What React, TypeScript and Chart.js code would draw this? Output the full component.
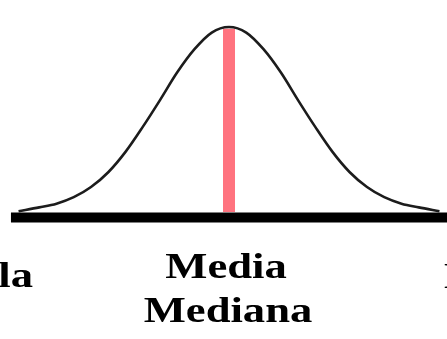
import React, { useEffect, useRef } from "react";
import { Chart, registerables } from "chart.js";

Chart.register(...registerables);

// Curve positions (in standard deviations from the centre) and relative heights
const curveX = [-3.05, -2.75, -2.5, -2.25, -2, -1.75, -1.5, -1.25, -1, -0.75, -0.5, -0.25, 0, 0.25, 0.5, 0.75, 1, 1.25, 1.5, 1.75, 2, 2.25, 2.5, 2.75, 3.05];
const curveY = [0.004, 0.025, 0.045, 0.08, 0.135, 0.215, 0.325, 0.46, 0.605, 0.755, 0.88, 0.97, 1.0, 0.97, 0.88, 0.755, 0.605, 0.46, 0.325, 0.215, 0.135, 0.08, 0.045, 0.025, 0.004];

// Centre marker (mean / median) and baseline
const centreX = [0, 0];
const centreY = [0, 0.99];
const baseX = [-3.16, 3.16];
const baseY = [-0.03, -0.03];

// Text labels
const centreLabels = ["Media", "Mediana"];
const leftLabel = "la";
const rightLabel = "Moda";

const toPoints = (xs: number[], ys: number[]) => xs.map((x, i) => ({ x, y: ys[i] }));

const labelPlugin = {
  id: "labels",
  afterDraw(chart: any) {
    const ctx = chart.ctx as CanvasRenderingContext2D;
    const xs = chart.scales.x;
    const sx = 1.24;
    ctx.save();
    ctx.fillStyle = "#000";
    ctx.font = 'bold 36px "Liberation Serif", "Times New Roman", serif';
    ctx.textBaseline = "alphabetic";
    const draw = (text: string, x: number, y: number, align: CanvasTextAlign) => {
      ctx.save();
      ctx.translate(x, y);
      ctx.scale(sx, 1);
      ctx.textAlign = align;
      ctx.fillText(text, 0, 0);
      ctx.restore();
    };
    const cx = xs.getPixelForValue(0);
    draw(centreLabels[0], cx - 3, 278, "center");
    draw(centreLabels[1], cx - 1, 322, "center");
    draw(leftLabel, 33, 287, "right");
    draw(rightLabel, 444, 288, "left");
    ctx.restore();
  },
};

export default function App() {
  const ref = useRef<HTMLCanvasElement | null>(null);
  useEffect(() => {
    if (!ref.current) return;
    const chart = new Chart(ref.current, {
      type: "line",
      data: {
        datasets: [
          {
            data: toPoints(curveX, curveY),
            borderColor: "#1c1c1c",
            borderWidth: 2.6,
            pointRadius: 0,
            tension: 0.4,
            cubicInterpolationMode: "monotone",
            fill: false,
            order: 0,
          },
          {
            data: toPoints(centreX, centreY),
            borderColor: "#ff737f",
            borderWidth: 12,
            pointRadius: 0,
            fill: false,
            order: 1,
          },
          {
            data: toPoints(baseX, baseY),
            borderColor: "#000000",
            borderWidth: 10,
            pointRadius: 0,
            fill: false,
            order: 2,
          },
        ],
      },
      options: {
        animation: false,
        responsive: false,
        events: [],
        layout: { padding: 0 },
        plugins: { legend: { display: false }, tooltip: { enabled: false } },
        scales: {
          x: { type: "linear", display: false, min: -229 / 69, max: 218 / 69 },
          y: { type: "linear", display: false, min: -127 / 185, max: 212 / 185 },
        },
      },
      plugins: [labelPlugin],
    });
    return () => chart.destroy();
  }, []);
  return (
    <div style={{ position: "fixed", left: 0, top: 0, width: 447, height: 339, background: "#fff" }}>
      <canvas ref={ref} width={447} height={339} />
    </div>
  );
}
